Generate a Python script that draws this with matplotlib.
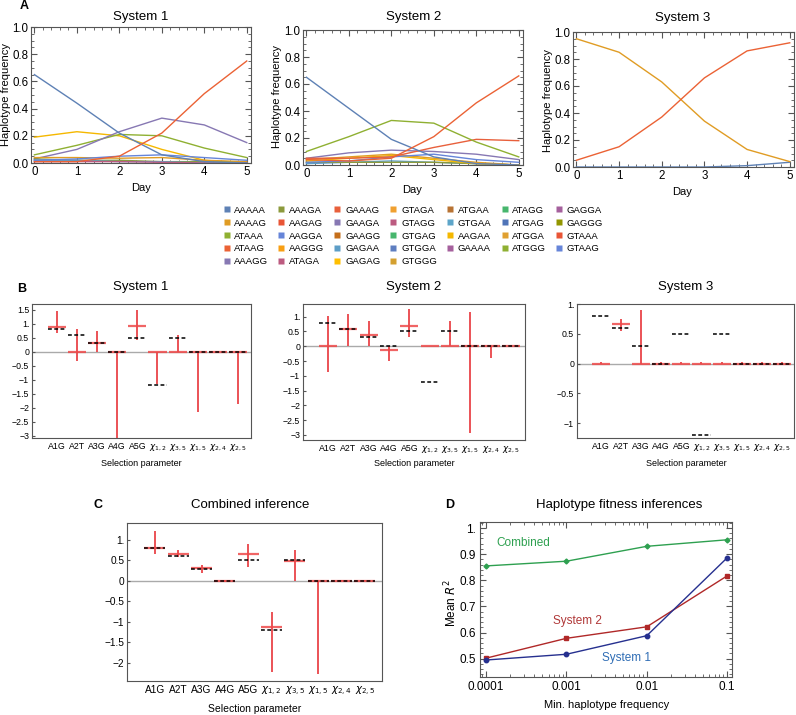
import matplotlib
matplotlib.use('Agg')
import matplotlib.pyplot as plt
from matplotlib.lines import Line2D
from matplotlib.ticker import MultipleLocator, FixedLocator, FuncFormatter, LogLocator, NullFormatter

plt.rcParams['font.family'] = ['Liberation Sans', 'DejaVu Sans']
plt.rcParams['mathtext.fontset'] = 'dejavusans'
plt.rcParams['axes.linewidth'] = 0.8
plt.rcParams['axes.edgecolor'] = '#555555'

W, H = 796, 715

# ---------------- data ----------------
days = [0, 1, 2, 3, 4, 5]

haplotypes = ['AAAAA', 'AAAAG', 'ATAAA', 'ATAAG', 'AAAGG',
              'AAAGA', 'AAGAG', 'AAGGA', 'AAGGG', 'ATAGA',
              'GAAAG', 'GAAGA', 'GAAGG', 'GAGAA', 'GAGAG',
              'GTAGA', 'GTAGG', 'GTGAG', 'GTGGA', 'GTGGG',
              'ATGAA', 'GTGAA', 'AAGAA', 'GAAAA',
              'ATAGG', 'ATGAG', 'ATGGA', 'ATGGG',
              'GAGGA', 'GAGGG', 'GTAAA', 'GTAAG']
hap_colors = ['#5E81B5', '#E09C24', '#8FB032', '#EB6235', '#8778B3',
              '#8C9A3C', '#E95536', '#6685D9', '#F89F13', '#BC5B80',
              '#E8603C', '#8778B3', '#C56E1A', '#5D9EC7', '#FFBF00',
              '#F0A030', '#BC5B80', '#47B66D', '#5E7EC0', '#D4A030',
              '#B87333', '#5DA5C9', '#F5B800', '#A5609D',
              '#47B66D', '#4F74B8', '#E0A030', '#8FB032',
              '#A5609D', '#929600', '#E95536', '#6685D9']

sys1_freqs = {
    'AAGAA': [0.19, 0.23, 0.20, 0.10, 0.02, 0.00],
    'ATAAA': [0.06, 0.13, 0.21, 0.20, 0.11, 0.04],
    'AAAGG': [0.03, 0.10, 0.23, 0.33, 0.28, 0.15],
    'AAAAG': [0.04, 0.04, 0.035, 0.04, 0.02, 0.01],
    'AAAGA': [0.03, 0.02, 0.02, 0.01, 0.01, 0.00],
    'GAGAA': [0.02, 0.02, 0.01, 0.01, 0.00, 0.00],
    'ATAGA': [0.01, 0.01, 0.01, 0.005, 0.00, 0.00],
    'AAGGA': [0.02, 0.03, 0.05, 0.06, 0.04, 0.02],
    'AAAAA': [0.65, 0.44, 0.22, 0.06, 0.01, 0.00],
    'ATAAG': [0.01, 0.01, 0.05, 0.22, 0.51, 0.75],
}
sys2_freqs = {
    'GAGAA': [0.01, 0.02, 0.03, 0.02, 0.01, 0.00],
    'AAAGA': [0.02, 0.02, 0.02, 0.02, 0.01, 0.00],
    'AAGAA': [0.03, 0.05, 0.07, 0.04, 0.01, 0.00],
    'AAAAG': [0.04, 0.06, 0.08, 0.05, 0.02, 0.00],
    'AAGGA': [0.02, 0.03, 0.06, 0.08, 0.04, 0.02],
    'AAAGG': [0.05, 0.09, 0.11, 0.10, 0.08, 0.04],
    'GAAAG': [0.05, 0.05, 0.06, 0.13, 0.19, 0.18],
    'ATAAA': [0.10, 0.21, 0.33, 0.31, 0.17, 0.06],
    'AAAAA': [0.65, 0.42, 0.19, 0.06, 0.01, 0.00],
    'ATAAG': [0.04, 0.03, 0.05, 0.21, 0.46, 0.66],
}
sys3_freqs = {
    'AAAAA': [0.00, 0.00, 0.00, 0.00, 0.01, 0.035],
    'AAAAG': [0.95, 0.85, 0.63, 0.34, 0.13, 0.04],
    'ATAAG': [0.05, 0.15, 0.37, 0.66, 0.86, 0.92],
}

params = ['A1G', 'A2T', 'A3G', 'A4G', 'A5G', r'$\chi_{1,2}$', r'$\chi_{3,5}$',
          r'$\chi_{1,5}$', r'$\chi_{2,4}$', r'$\chi_{2,5}$']
true_vals = [0.8, 0.6, 0.3, 0.0, 0.5, -1.2, 0.5, 0.0, 0.0, 0.0]

sys1_est = [0.87, 0.0, 0.32, 0.0, 0.9, 0.0, 0.0, 0.0, 0.0, 0.0]
sys1_lo = [0.65, -0.35, 0.0, -3.2, 0.42, -1.15, 0.0, -2.15, 0.0, -1.85]
sys1_hi = [1.45, 0.8, 0.75, 0.0, 1.5, 0.0, 0.6, 0.0, 0.0, 0.0]

sys2_est = [0.0, 0.6, 0.38, -0.12, 0.7, 0.0, 0.0, 0.0, 0.0, 0.0]
sys2_lo = [-0.88, 0.0, 0.0, -0.5, 0.3, 0.0, 0.0, -2.95, -0.38, 0.0]
sys2_hi = [1.02, 1.1, 0.87, 0.0, 1.25, 0.02, 0.85, 1.15, 0.0, 0.0]

sys3_est = [0.0, 0.66, 0.0, 0.0, 0.0, 0.0, 0.0, 0.0, 0.0, 0.0]
sys3_lo = [-0.01, 0.55, 0.0, -0.01, -0.01, -0.01, -0.01, -0.01, -0.01, -0.01]
sys3_hi = [0.02, 0.75, 0.9, 0.02, 0.02, 0.02, 0.02, 0.02, 0.02, 0.02]

comb_est = [0.8, 0.66, 0.31, 0.0, 0.65, -1.13, 0.48, 0.0, 0.0, 0.0]
comb_lo = [0.65, 0.57, 0.2, -0.02, 0.33, -2.23, 0.0, -2.28, -0.01, -0.01]
comb_hi = [1.22, 0.75, 0.38, 0.02, 0.9, -0.75, 0.75, 0.0, 0.02, 0.02]

min_freq = [1e-4, 1e-3, 1e-2, 1e-1]
r2_combined = [0.855, 0.873, 0.930, 0.955]
r2_sys2 = [0.502, 0.578, 0.622, 0.817]
r2_sys1 = [0.495, 0.517, 0.588, 0.886]

# ---------------- helpers ----------------
fig = plt.figure(figsize=(W / 100, H / 100), dpi=100)


def px_axes(l, t, r, b):
    return fig.add_axes([l / W, 1 - b / H, (r - l) / W, (b - t) / H])


def ftext(x, y, s, **kw):
    kw.setdefault('ha', 'center')
    kw.setdefault('va', 'center')
    fig.text(x / W, 1 - y / H, s, **kw)


def mma_fmt(v, pos=None):
    if abs(v) < 1e-9:
        return '0'
    if abs(v - round(v)) < 1e-9 and v > 0:
        return '%d.' % round(v)
    return ('%g' % v).replace('-', '\u2212')


color_of = dict(zip(haplotypes, hap_colors))


def draw_freqs(ax, freqs):
    for hap, vals in freqs.items():
        ax.plot(days, vals, color=color_of[hap], lw=1.0)
    ax.set_xlim(-0.08, 5.1)
    ax.set_ylim(0, 1)
    ax.xaxis.set_major_locator(MultipleLocator(1))
    ax.xaxis.set_minor_locator(MultipleLocator(0.2))
    ax.yaxis.set_major_locator(MultipleLocator(0.2))
    ax.yaxis.set_minor_locator(MultipleLocator(0.05))
    ax.yaxis.set_major_formatter(FuncFormatter(lambda v, p: '%.1f' % v))
    ax.tick_params(which='both', direction='in', top=True, right=True,
                   labelsize=8.3, pad=2, color='#555555')
    ax.tick_params(which='major', length=4)
    ax.tick_params(which='minor', length=2)


def draw_selection(ax, est, lo, hi, xlim, ylim, fs=6.3):
    x = list(range(1, len(params) + 1))
    ax.axhline(0, color='#aaaaaa', lw=1.0, zorder=1)
    ax.vlines(x, lo, hi, color='#E8353A', lw=1.2, zorder=3)
    ax.hlines(est, [i - 0.45 for i in x], [i + 0.45 for i in x],
              color='#EE4A4A', lw=1.6, alpha=0.85, zorder=3)
    ax.hlines(true_vals, [i - 0.45 for i in x], [i + 0.45 for i in x],
              color='black', lw=1.1, linestyles=(0, (2.5, 1.6)), zorder=4)
    ax.set_xlim(*xlim)
    ax.set_ylim(*ylim)
    ax.set_xticks(x)
    ax.set_xticklabels(params)
    ax.yaxis.set_major_locator(MultipleLocator(0.5))
    ax.yaxis.set_major_formatter(FuncFormatter(mma_fmt))
    ax.tick_params(axis='x', length=0, labelsize=fs, pad=3)
    ax.tick_params(axis='y', direction='in', length=2.5, labelsize=fs, pad=2,
                   color='#555555')


# ---------------- panel A ----------------
axA1 = px_axes(31, 27, 251, 163)
axA2 = px_axes(303, 30, 523, 165)
axA3 = px_axes(573, 32, 794, 167)
for ax, fr in [(axA1, sys1_freqs), (axA2, sys2_freqs), (axA3, sys3_freqs)]:
    draw_freqs(ax, fr)

ftext(24, 6, 'A', fontsize=9, fontweight='bold')
for (cx, cy), (lx, ly), (dx, dy), t in [((141, 17), (6, 95), (141, 188), 'System 1'),
                                         ((414, 17), (277, 97), (412, 190), 'System 2'),
                                         ((683, 18), (548, 100), (682, 192), 'System 3')]:
    ftext(cx, cy, t, fontsize=9.5)
    ftext(lx, ly, 'Haplotype frequency', fontsize=8, rotation=90)
    ftext(dx, dy, 'Day', fontsize=8)

# legend
handles = [Line2D([], [], marker='s', linestyle='none', markersize=4.2,
                  color=c, markeredgecolor='none') for c in hap_colors]
fig.legend(handles, haplotypes, loc='center', bbox_to_anchor=(413 / W, 1 - 236 / H),
           ncol=7, frameon=False, fontsize=6.8, handlelength=0.8, handletextpad=0.4,
           columnspacing=1.0, labelspacing=0.42, borderpad=0)

# ---------------- panel B ----------------
axB1 = px_axes(32, 304, 251, 438)
axB2 = px_axes(303, 304, 525, 440)
axB3 = px_axes(577, 304, 794, 438)
draw_selection(axB1, sys1_est, sys1_lo, sys1_hi, (-0.24, 10.65), (-3.08, 1.70))
draw_selection(axB2, sys2_est, sys2_lo, sys2_hi, (-0.23, 10.69), (-3.17, 1.43))
draw_selection(axB3, sys3_est, sys3_lo, sys3_hi, (-0.19, 10.6), (-1.25, 1.0))

ftext(22, 289, 'B', fontsize=9, fontweight='bold')
for cx, t in [(141, 'System 1'), (414, 'System 2'), (686, 'System 3')]:
    ftext(cx, 287, t, fontsize=9.5)
    ftext(cx, 463, 'Selection parameter', fontsize=6.5)

# ---------------- panel C ----------------
axC = px_axes(127, 523, 382, 681)
draw_selection(axC, comb_est, comb_lo, comb_hi, (-0.2, 10.73), (-2.44, 1.41), fs=7.3)
ftext(98, 505, 'C', fontsize=9, fontweight='bold')
ftext(250, 505, 'Combined inference', fontsize=9.5)
ftext(255, 709, 'Selection parameter', fontsize=7.5)

# ---------------- panel D ----------------
axD = px_axes(480, 522, 732, 677)
axD.plot(min_freq, r2_combined, color='#2EA050', lw=1.0, marker='D', markersize=2.5)
axD.plot(min_freq, r2_sys2, color='#B02828', lw=1.0, marker='s', markersize=2.5)
axD.plot(min_freq, r2_sys1, color='#26308F', lw=1.0, marker='o', markersize=3.2)
axD.set_xscale('log')
axD.set_xlim(10 ** -4.075, 10 ** -0.94)
axD.set_ylim(0.43, 1.023)
axD.xaxis.set_major_locator(FixedLocator(min_freq))
axD.xaxis.set_major_formatter(FuncFormatter(lambda v, p: '%g' % v))
axD.xaxis.set_minor_locator(LogLocator(base=10, subs=range(2, 10)))
axD.xaxis.set_minor_formatter(NullFormatter())
axD.yaxis.set_major_locator(MultipleLocator(0.1))
axD.yaxis.set_minor_locator(MultipleLocator(0.02))
axD.yaxis.set_major_formatter(FuncFormatter(mma_fmt))
axD.tick_params(which='both', direction='in', top=True, right=True,
                labelsize=8.5, pad=3, color='#555555')
axD.tick_params(which='major', length=4)
axD.tick_params(which='minor', length=2)
axD.text(2.9e-4, 0.943, 'Combined', color='#2EA050', fontsize=8.5, ha='center', va='center')
axD.text(1.39e-3, 0.645, 'System 2', color='#B03838', fontsize=8.5, ha='center', va='center')
axD.text(5.66e-3, 0.504, 'System 1', color='#2F6DB5', fontsize=8.5, ha='center', va='center')

ftext(450, 505, 'D', fontsize=9, fontweight='bold')
ftext(619, 505, 'Haplotype fitness inferences', fontsize=9.5)
ftext(607, 705, 'Min. haplotype frequency', fontsize=8)
ftext(451, 603, r'Mean $R^2$', fontsize=8.5, rotation=90)

fig.savefig('out.png', dpi=100)
